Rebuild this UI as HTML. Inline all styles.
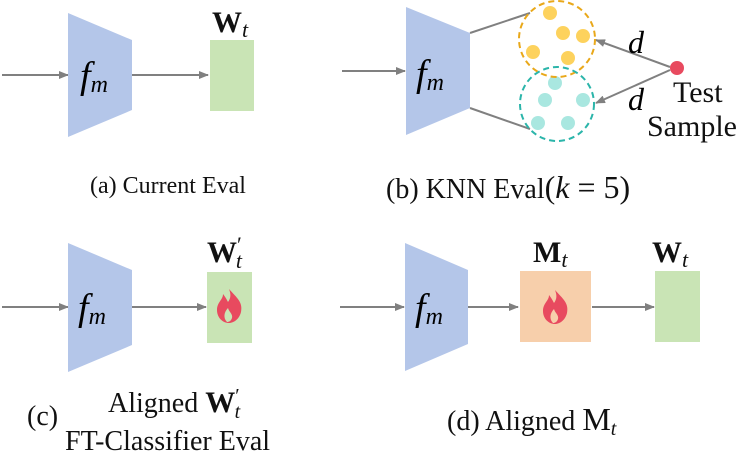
<html><body style="margin:0;background:#fff">
<svg width="747" height="458" viewBox="0 0 747 458" xmlns="http://www.w3.org/2000/svg" font-family="Liberation Serif, serif">
<defs>
<marker id="a" markerWidth="10" markerHeight="8" refX="9" refY="4" orient="auto" markerUnits="userSpaceOnUse"><path d="M0,0L10,4L0,8z" fill="#808080"/></marker>
<g id="fire"><path d="M0,-17 C8,-8 14,-4 12,6 C10,14 4,17 0,17 C-6,17 -12,12 -12,4 C-12,-4 -6,-6 -6,-12 C-3,-8 -2,-6 -1,-4 C2,-8 2,-12 0,-17z M-2,16 C-6,12 -5,6 -1,2 C0,6 4,8 3,12 C2,15 0,16 -2,16z" fill="#e84a5f" fill-rule="evenodd"/></g>
</defs>
<g stroke="#808080" stroke-width="2" fill="none">
<line x1="2" y1="75" x2="68" y2="75" marker-end="url(#a)"/>
<line x1="132" y1="75" x2="208" y2="75" marker-end="url(#a)"/>
<line x1="342" y1="71" x2="405" y2="71" marker-end="url(#a)"/>
<line x1="470" y1="33" x2="530" y2="13"/>
<line x1="470" y1="108" x2="530" y2="129"/>
<line x1="670" y1="67" x2="596" y2="40" marker-end="url(#a)"/>
<line x1="670" y1="70" x2="596" y2="103" marker-end="url(#a)"/>
<line x1="2" y1="307" x2="68" y2="307" marker-end="url(#a)"/>
<line x1="132" y1="307" x2="206" y2="307" marker-end="url(#a)"/>
<line x1="340" y1="307" x2="404" y2="307" marker-end="url(#a)"/>
<line x1="468" y1="307" x2="518" y2="307" marker-end="url(#a)"/>
<line x1="592" y1="307" x2="654" y2="307" marker-end="url(#a)"/>
</g>
<g fill="#b4c6e9">
<polygon points="68,13 132,40 132,110 68,137"/>
<polygon points="406,7 470,33 470,108 406,135"/>
<polygon points="68,243 132,270 132,345 68,372"/>
<polygon points="405,243 468,270 468,344 405,371"/>
</g>
<g font-family="Liberation Serif, serif" font-style="italic" font-size="38">
<text x="80" y="88">f<tspan font-size="24" dy="4">m</tspan></text>
<text x="416" y="86">f<tspan font-size="24" dy="4">m</tspan></text>
<text x="78" y="320">f<tspan font-size="24" dy="4">m</tspan></text>
<text x="415" y="320">f<tspan font-size="24" dy="4">m</tspan></text>
<text x="628" y="53" font-size="32">d</text>
<text x="628" y="110" font-size="32">d</text>
</g>
<rect x="210" y="40" width="44" height="71" fill="#c9e4b5"/>
<rect x="207" y="272" width="45" height="71" fill="#c9e4b5"/>
<rect x="520" y="271" width="71" height="71" fill="#f7cfab"/>
<rect x="655" y="271" width="45" height="71" fill="#c9e4b5"/>
<use href="#fire" x="229" y="306"/>
<use href="#fire" x="555" y="307"/>
<g fill="#fdd25d"><circle cx="550" cy="13" r="7"/><circle cx="563" cy="33" r="7"/><circle cx="583" cy="36" r="7"/><circle cx="533" cy="52" r="7"/><circle cx="568" cy="58" r="7"/></g>
<g fill="#a9e7e0"><circle cx="555" cy="83" r="7"/><circle cx="545" cy="100" r="7"/><circle cx="583" cy="100" r="7"/><circle cx="538" cy="123" r="7"/><circle cx="568" cy="123" r="7"/></g>
<circle cx="557" cy="39" r="38" fill="none" stroke="#e9a81a" stroke-width="2" stroke-dasharray="6,4"/>
<circle cx="557" cy="104" r="37" fill="none" stroke="#2bb5aa" stroke-width="2" stroke-dasharray="6,4"/>
<circle cx="677" cy="68" r="7" fill="#e84a5f"/>
<g font-size="30" fill="#111">
<text x="673" y="102">Test</text>
<text x="647" y="136">Sample</text>
</g>
<g font-weight="bold" font-size="30" fill="#111">
<text x="212" y="32">W<tspan font-style="italic" font-weight="normal" font-size="22" dy="5">t</tspan></text>
<text x="207" y="262">W<tspan font-weight="normal" font-size="22" dy="-10">′</tspan><tspan font-style="italic" font-weight="normal" font-size="22" dx="-6" dy="16">t</tspan></text>
<text x="533" y="262">M<tspan font-style="italic" font-weight="normal" font-size="22" dy="5">t</tspan></text>
<text x="652" y="262">W<tspan font-style="italic" font-weight="normal" font-size="22" dy="5">t</tspan></text>
</g>
<g font-size="24" fill="#111">
<text x="90" y="193">(a) Current Eval</text>
<text x="386" y="198" font-size="28">(b) KNN Eval<tspan font-size="32">(<tspan font-style="italic">k</tspan> = 5)</tspan></text>
<text x="27" y="425" font-size="28">(c)</text>
<text x="108" y="412" font-size="28">Aligned <tspan font-weight="bold" font-size="30">W</tspan><tspan font-size="20" dy="-10">′</tspan><tspan font-style="italic" font-size="20" dx="-5" dy="16">t</tspan></text>
<text x="65" y="450" font-size="28">FT-Classifier Eval</text>
<text x="447" y="430" font-size="28">(d) Aligned <tspan font-size="32">M</tspan><tspan font-style="italic" font-size="20" dy="5">t</tspan></text>
</g>
</svg>
</body></html>
